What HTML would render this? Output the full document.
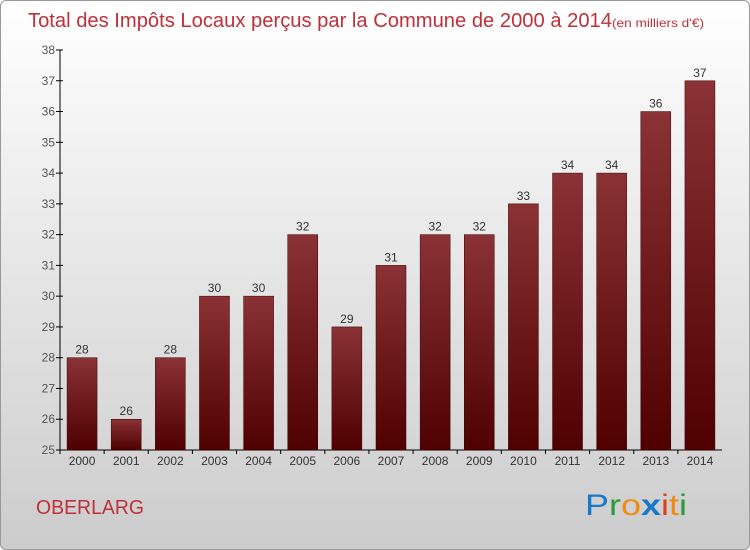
<!DOCTYPE html>
<html><head><meta charset="utf-8"><style>
html,body{margin:0;padding:0}
body{width:750px;height:550px;overflow:hidden;font-family:"Liberation Sans",sans-serif}
#root{position:absolute;left:0;top:0;width:748px;height:548px;border:1px solid #999;border-radius:6px;background:linear-gradient(#ffffff,#cccccc);overflow:hidden}
</style></head><body>
<div id="root">
<svg id="chart" width="750" height="550" xmlns="http://www.w3.org/2000/svg" style="position:absolute;left:-1px;top:-1px">
<defs><linearGradient id="bg" x1="0" y1="0" x2="0" y2="1"><stop offset="0" stop-color="#8a3236"/><stop offset="1" stop-color="#4f0000"/></linearGradient></defs>
<text x="28" y="27" font-size="20" fill="#c0303a"><tspan textLength="584" lengthAdjust="spacingAndGlyphs">Total des Impôts Locaux perçus par la Commune de 2000 à 2014</tspan><tspan font-size="12" textLength="92" lengthAdjust="spacingAndGlyphs">(en milliers d'€)</tspan></text>
<text x="36" y="514" font-size="20" fill="#c0303a" textLength="108" lengthAdjust="spacingAndGlyphs">OBERLARG</text>
<g font-size="30" font-family="Liberation Sans,sans-serif">
<text x="585" y="515" textLength="102" lengthAdjust="spacingAndGlyphs"><tspan fill="#1a78c8">P</tspan><tspan fill="#2a9a3a">r</tspan><tspan fill="#f08a10">o</tspan><tspan fill="#1a78c8" font-weight="bold">x</tspan><tspan fill="#e0401a">i</tspan><tspan fill="#f08a10">t</tspan><tspan fill="#2a9a3a">i</tspan></text>
</g>
<g id="axes"></g><g id="bars"></g>
</svg>
</div>
<script>
const years=["2000","2001","2002","2003","2004","2005","2006","2007","2008","2009","2010","2011","2012","2013","2014"];
const values=[28,26,28,30,30,32,29,31,32,32,33,34,34,36,37];
const yTicks=[25,26,27,28,29,30,31,32,33,34,35,36,37,38];
const NS="http://www.w3.org/2000/svg";
const x0=60,x1=722,yMin=25,yMax=38,yTop=50,yBot=450;
const y=v=>yBot-(v-yMin)/(yMax-yMin)*(yBot-yTop);
const step=(x1-x0)/years.length;
const xc=i=>x0+step*(i+0.5);
function mk(t,a,p){const e=document.createElementNS(NS,t);for(const k in a)e.setAttribute(k,a[k]);p.appendChild(e);return e;}
const ax=document.getElementById('axes'),bg=document.getElementById('bars');
const yl=mk('line',{x1:x0,y1:yTop,x2:x0,y2:yBot,stroke:'#000'},ax);


const xl=mk('line',{x1:x0,y1:yBot,x2:x1,y2:yBot,stroke:'#000'},ax);


yTicks.forEach(v=>{
 mk('line',{x1:x0-4,y1:y(v),x2:x0+3,y2:y(v),stroke:'#000'},ax);
 const t=mk('text',{x:x0-5,y:y(v)+4,'text-anchor':'end','font-size':12,fill:'#555'},ax);
 t.textContent=v;
 
 
});
years.forEach((yr,i)=>{
 mk('line',{x1:x0+step*i,y1:yBot,x2:x0+step*i,y2:yBot+4,stroke:'#000'},ax);
 const t=mk('text',{x:xc(i),y:yBot+15,'text-anchor':'middle','font-size':12,fill:'#333'},ax);
 t.textContent=yr;
 
 
 const r=mk('rect',{x:xc(i)-15,y:y(values[i]),width:30,height:yBot-y(values[i]),fill:'url(#bg)',stroke:'#3a0000','stroke-width':0.5},bg);
 
 
 const l=mk('text',{x:xc(i),y:y(values[i])-4,'text-anchor':'middle','font-size':12,fill:'#333'},bg);
 l.textContent=values[i];
 
 
});
</script>
</body></html>
